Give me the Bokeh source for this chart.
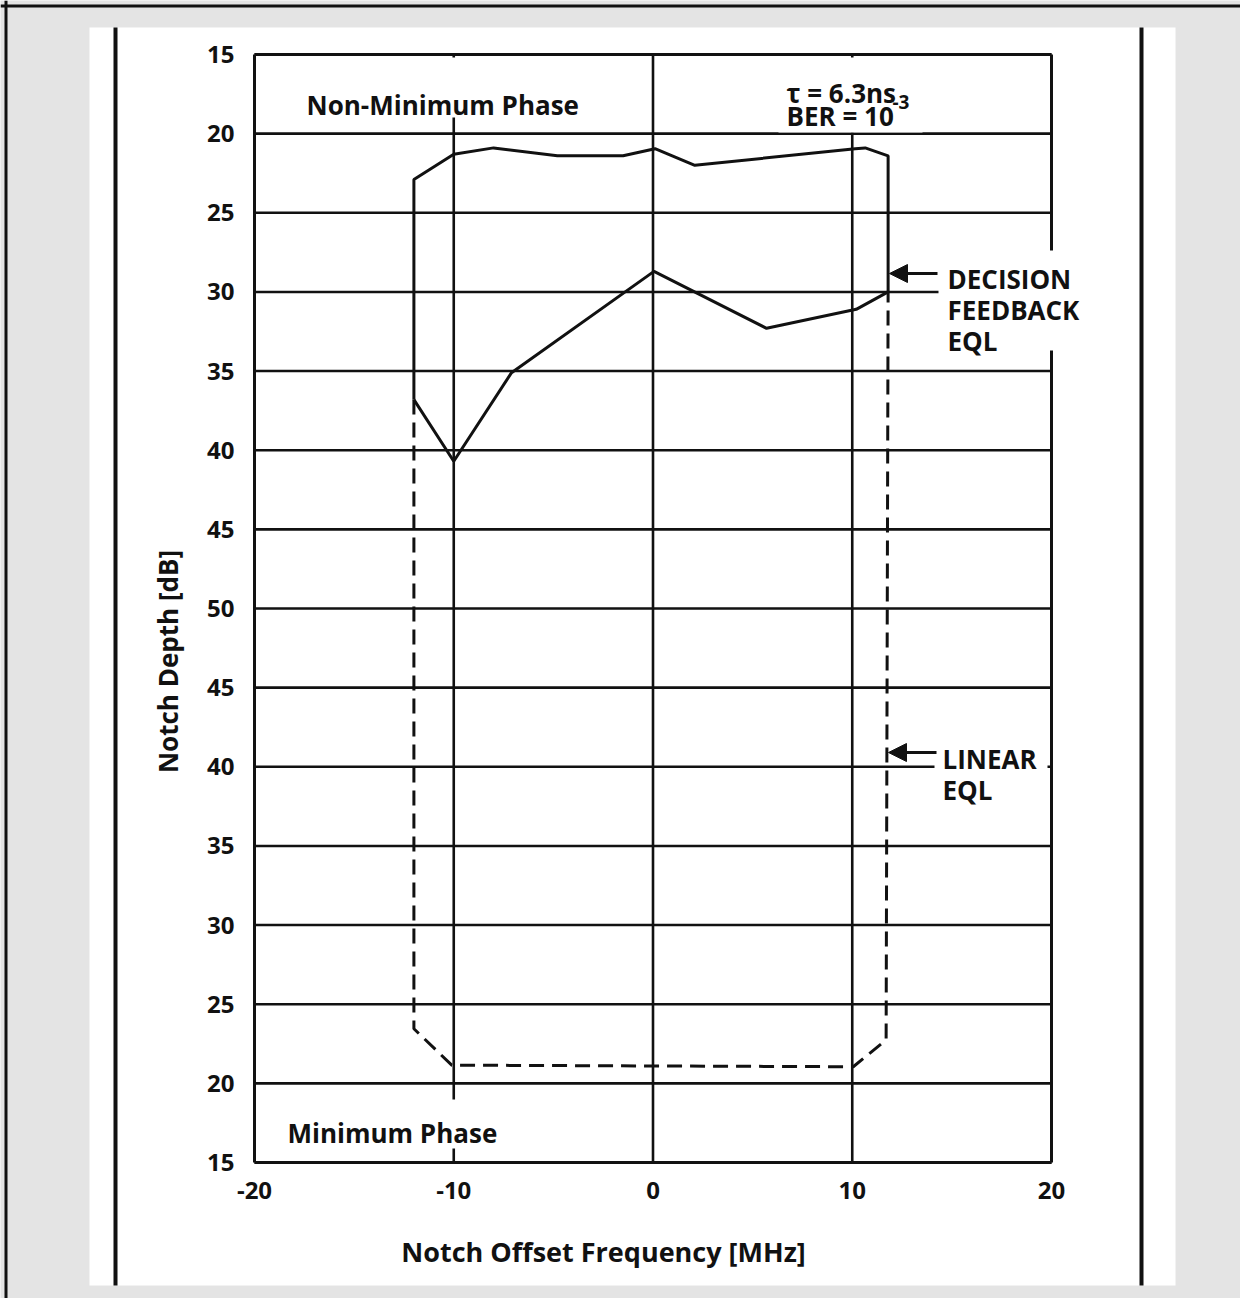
import math
from bokeh.plotting import figure
from bokeh.models import (Range1d, FixedTicker, Label, Arrow, NormalHead, BoxAnnotation,
                          LinearAxis, Span)
from bokeh.embed import file_html
from bokeh.resources import INLINE

# ---------------- data ----------------
x_ticks = [-20, -10, 0, 10, 20]
depth_ticks_nonmin = [15, 20, 25, 30, 35, 40, 45, 50]   # upper half (non-minimum phase)
depth_ticks_min = [45, 40, 35, 30, 25, 20, 15]          # lower half (minimum phase)
x_grid = [-10, 0, 10]

# Decision feedback EQL, non-minimum phase signature (solid)
dfe_nm_x = [-12, -12, -10, -8, -4.8, -1.5, 0.1, 2.1, 10.15, 10.65, 11.8, 11.8]
dfe_nm_db = [36.8, 22.9, 21.3, 20.9, 21.4, 21.4, 20.95, 22.0, 20.95, 20.9, 21.4, 30.0]

# Linear EQL, non-minimum phase signature (solid)
lin_nm_x = [-12, -10, -7.1, 0.05, 5.7, 10.2, 11.8]
lin_nm_db = [36.8, 40.7, 35.1, 28.7, 32.3, 31.1, 30.0]

# Minimum phase signature (dashed), joined to the non-minimum-phase ends
min_x = [-12, -10.1, 10.05, 11.7]
min_db = [23.45, 21.15, 21.05, 22.75]
dash_start = (-12, 36.8)   # non-min phase end points (x, dB)
dash_end = (11.8, 30.0)

# ---------------- folded depth axis ----------------
def nm(db):      # non-minimum phase: top half
    return db

def mp(db):      # minimum phase: mirrored into the lower half
    return 100 - db

yt = [nm(d) for d in depth_ticks_nonmin] + [mp(d) for d in depth_ticks_min]
ylabels = depth_ticks_nonmin + depth_ticks_min

# ---------------- layout (pixels of the picture) ----------------
ink = "#111111"
gray = "#e4e4e4"
FONT = "Open Sans"
W, H = 1240, 1298
SHEET = (89, 27, 1175, 1285)   # white sheet
CHART = (254, 54, 1051, 1162)  # chart box

x0, x1 = x_ticks[0], x_ticks[-1]
y0, y1 = yt[0], yt[-1]
kx = (CHART[2] - CHART[0]) / (x1 - x0)
ky = (CHART[3] - CHART[1]) / (y1 - y0)

def X(px):
    return x0 + (px - CHART[0]) / kx

def Y(py):
    return y0 + (py - CHART[1]) / ky

p = figure(width=W, height=H, output_backend="svg", toolbar_location=None,
           x_axis_location=None, y_axis_location=None,
           x_range=Range1d(X(0), X(W)), y_range=Range1d(Y(H), Y(0)),
           min_border_left=0, min_border_right=0, min_border_top=0, min_border_bottom=0)
p.border_fill_color = gray
p.background_fill_color = gray
p.outline_line_color = None
p.xgrid.visible = False
p.ygrid.visible = False

# white sheet of paper
p.quad(left=[X(SHEET[0])], right=[X(SHEET[2])], top=[Y(SHEET[1])], bottom=[Y(SHEET[3])],
       fill_color="white", line_color=None)

# axes fixed at the chart edges
xax = LinearAxis(fixed_location=y1, ticker=FixedTicker(ticks=x_ticks),
                 major_label_overrides={t: str(t) for t in x_ticks})
yax = LinearAxis(fixed_location=x0, ticker=FixedTicker(ticks=yt),
                 major_label_overrides={t: str(l) for t, l in zip(yt, ylabels)})
for ax in (xax, yax):
    ax.axis_line_color = None
    ax.major_tick_line_color = None
    ax.minor_tick_line_color = None
    ax.major_label_text_font = FONT
    ax.major_label_text_font_style = "bold"
    ax.major_label_text_font_size = "24px"
    ax.major_label_text_color = ink
xax.major_label_standoff = 13
yax.major_label_standoff = 14
p.add_layout(xax, "below")
p.add_layout(yax, "left")

# grid and chart frame
p.multi_line(xs=[[x0, x1] for _ in yt], ys=[[t, t] for t in yt],
             line_color=ink, line_width=2.6)
p.multi_line(xs=[[t, t] for t in x_grid], ys=[[y0, y1] for _ in x_grid],
             line_color=ink, line_width=2.6)
p.multi_line(xs=[[x0, x0], [x1, x1]], ys=[[y0, y1], [y0, y1]],
             line_color=ink, line_width=3)
p.multi_line(xs=[[x0, x1], [x0, x1]], ys=[[y0, y0], [y1, y1]],
             line_color=ink, line_width=3)

# curves
p.line(dfe_nm_x, [nm(v) for v in dfe_nm_db], line_color=ink, line_width=3)
p.line(lin_nm_x, [nm(v) for v in lin_nm_db], line_color=ink, line_width=3)
dx = [dash_start[0]] + min_x + [dash_end[0]]
dy = [nm(dash_start[1])] + [mp(v) for v in min_db] + [nm(dash_end[1])]
p.line(dx, dy, line_color=ink, line_width=3, line_dash="15 8")

# scan lines of the sheet
for sx in (115, 1141):
    p.segment(x0=[X(sx)], x1=[X(sx)], y0=[Y(SHEET[1])], y1=[Y(SHEET[3])],
              line_color=ink, line_width=4)

# outer border of the scan (left and top)
p.add_layout(Span(location=X(5.5), dimension="height", line_color=ink, line_width=3))
p.add_layout(Span(location=Y(5.5), dimension="width", line_color=ink, line_width=3))

# white patches behind text blocks
def white(l, t, r, b):
    p.add_layout(BoxAnnotation(left=X(l), right=X(r), top=Y(t), bottom=Y(b),
                               fill_color="white", fill_alpha=1, line_color=None))

white(296, 57, 596, 117)      # Non-Minimum Phase
white(778, 57, 922, 132)      # tau / BER
white(938, 250, 1095, 350)    # DECISION FEEDBACK EQL
white(934, 738, 1047, 800)    # LINEAR EQL
white(280, 1099, 510, 1148)   # Minimum Phase

def lab(px, py, text, align="left", baseline="alphabetic", size="26px", angle=0):
    p.add_layout(Label(x=X(px), y=Y(py), text=text, text_font=FONT,
                       text_font_style="bold", text_font_size=size, text_color=ink,
                       text_align=align, text_baseline=baseline, angle=angle))

lab(306, 104, "Non-Minimum Phase")
lab(287, 1132, "Minimum Phase")
lab(786, 92, "τ = 6.3ns")
lab(786, 115, "BER = 10")
lab(892, 101, "-3", size="19px")
lab(947, 278, "DECISION")
lab(947, 309, "FEEDBACK")
lab(947, 340, "EQL")
lab(942, 758, "LINEAR")
lab(942, 789, "EQL")

# arrows
for (xs, xe, ya) in ((937, 889, 273), (936, 888, 752)):
    p.add_layout(Arrow(end=NormalHead(size=18, fill_color=ink, line_color=ink, line_width=1),
                       x_start=X(xs), y_start=Y(ya), x_end=X(xe), y_end=Y(ya),
                       line_color=ink, line_width=3))

# axis titles
lab(603, 1251, "Notch Offset Frequency [MHz]", align="center", size="27px")
lab(167, 661, "Notch Depth [dB]", align="center", baseline="middle", angle=math.pi / 2)

open("out.html", "w").write(file_html(p, INLINE))
